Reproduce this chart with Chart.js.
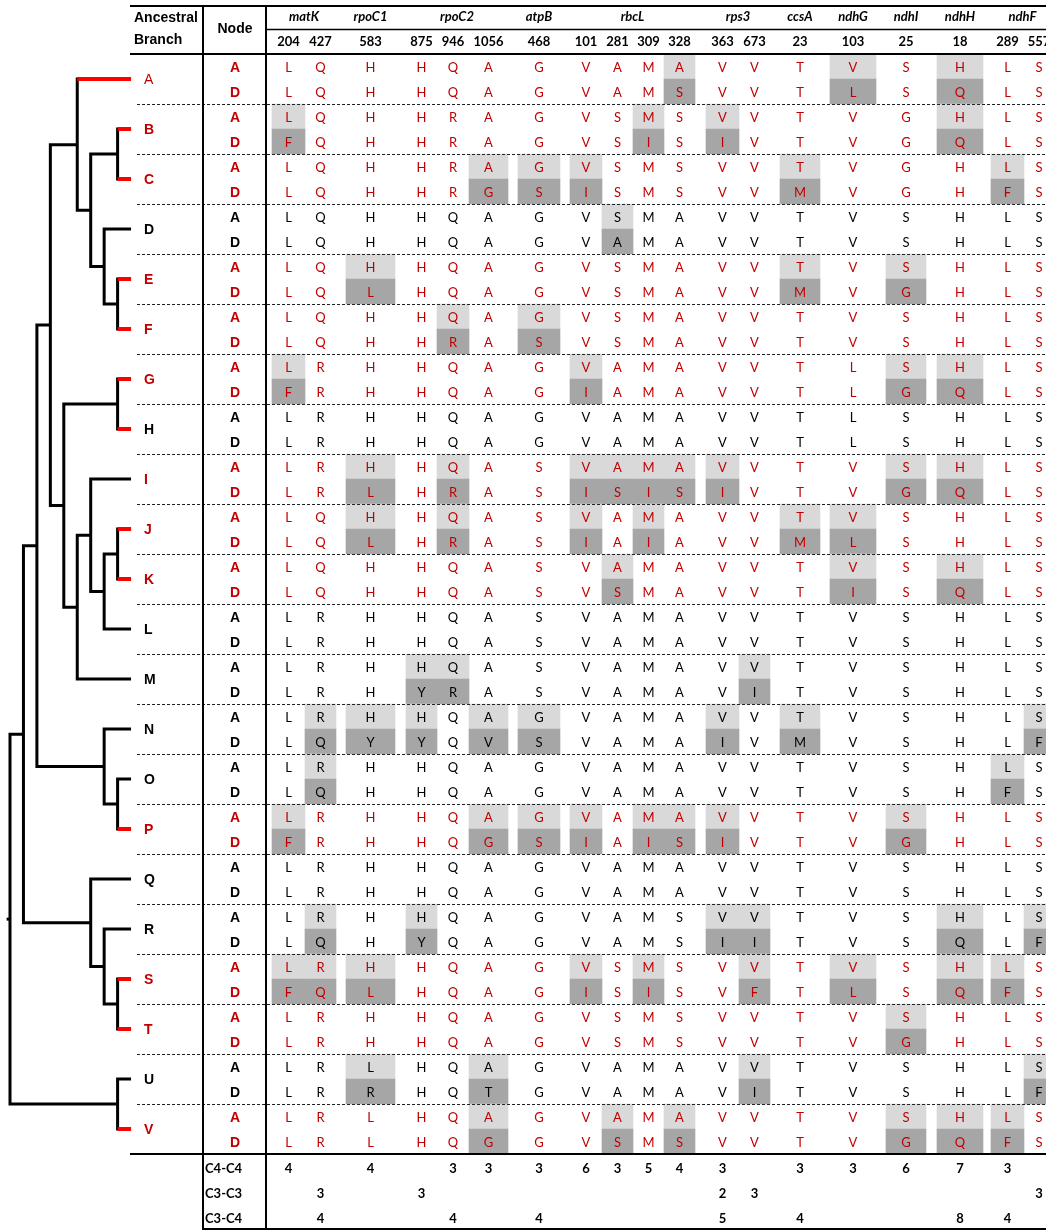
<!DOCTYPE html>
<html>
<head>
<meta charset="utf-8">
<script src="https://cdn.jsdelivr.net/npm/chart.js@4.4.1/dist/chart.umd.min.js"></script>
<style>
  html, body { margin: 0; padding: 0; background: #fff; }
  #wrap { width: 1046px; height: 1232px; }
</style>
</head>
<body>
<div id="wrap"><canvas id="siteChart" width="1046" height="1232"></canvas></div>
<script>
// genes and the sites (codon positions) shown for each
const genes = ["matK", "rpoC1", "rpoC2", "atpB", "rbcL", "rps3", "ccsA", "ndhG", "ndhI", "ndhH", "ndhF"];
const geneSiteCount = [2, 1, 3, 1, 4, 2, 1, 1, 1, 1, 2];
const sites = ["204", "427", "583", "875", "946", "1056", "468", "101", "281", "309", "328",
               "363", "673", "23", "103", "25", "18", "289", "557"];

// ancestral branches (nodes)
const nodes = ["A", "B", "C", "D", "E", "F", "G", "H", "I", "J", "K",
               "L", "M", "N", "O", "P", "Q", "R", "S", "T", "U", "V"];
const redLabels = ["A", "B", "C", "E", "F", "G", "I", "J", "K", "P", "S", "T", "V"];
const redBranches = ["A", "B", "C", "E", "F", "G", "H", "J", "K", "P", "S", "T", "V"];

// amino acid at each site: ancestral (A) and descendant (D) state per node
const ancestral = [
  "LQHHQAGVAMAVVTVSHLS", "LQHHRAGVSMSVVTVGHLS", "LQHHRAGVSMSVVTVGHLS", "LQHHQAGVSMAVVTVSHLS",
  "LQHHQAGVSMAVVTVSHLS", "LQHHQAGVSMAVVTVSHLS", "LRHHQAGVAMAVVTLSHLS", "LRHHQAGVAMAVVTLSHLS",
  "LRHHQASVAMAVVTVSHLS", "LQHHQASVAMAVVTVSHLS", "LQHHQASVAMAVVTVSHLS", "LRHHQASVAMAVVTVSHLS",
  "LRHHQASVAMAVVTVSHLS", "LRHHQAGVAMAVVTVSHLS", "LRHHQAGVAMAVVTVSHLS", "LRHHQAGVAMAVVTVSHLS",
  "LRHHQAGVAMAVVTVSHLS", "LRHHQAGVAMSVVTVSHLS", "LRHHQAGVSMSVVTVSHLS", "LRHHQAGVSMSVVTVSHLS",
  "LRLHQAGVAMAVVTVSHLS", "LRLHQAGVAMAVVTVSHLS"
];
const derived = [
  "LQHHQAGVAMSVVTLSQLS", "FQHHRAGVSISIVTVGQLS", "LQHHRGSISMSVVMVGHFS", "LQHHQAGVAMAVVTVSHLS",
  "LQLHQAGVSMAVVMVGHLS", "LQHHRASVSMAVVTVSHLS", "FRHHQAGIAMAVVTLGQLS", "LRHHQAGVAMAVVTLSHLS",
  "LRLHRASISISIVTVGQLS", "LQLHRASIAIAVVMLSHLS", "LQHHQASVSMAVVTISQLS", "LRHHQASVAMAVVTVSHLS",
  "LRHYRASVAMAVITVSHLS", "LQYYQVSVAMAIVMVSHLF", "LQHHQAGVAMAVVTVSHFS", "FRHHQGSIAISIVTVGHLS",
  "LRHHQAGVAMAVVTVSHLS", "LQHYQAGVAMSIITVSQLF", "FQLHQAGISISVFTLSQFS", "LRHHQAGVSMSVVTVGHLS",
  "LRRHQTGVAMAVITVSHLF", "LRLHQGGVSMSVVTVGQFS"
];

// number of substitutions per site by lineage type
const summaryLabels = ["C4-C4", "C3-C3", "C3-C4"];
const c4c4 = [4, null, 4, null, 3, 3, 3, 6, 3, 5, 4, 3, null, 3, 3, 6, 7, 3, null];
const c3c3 = [null, 3, null, 3, null, null, null, null, null, null, null, 2, 3, null, null, null, null, null, 3];
const c3c4 = [null, 4, null, null, 4, null, 4, null, null, null, null, 5, null, 4, null, null, 8, 4, null];

// tree: [depth level, children...], leaves are node names
const tree = [0,
  [1,
    [2,
      [3,
        [5, "A", [6, [8, "B", "C"], [7, "D", [8, "E", "F"]]]],
        [4, [8, "G", "H"], [5, [6, "I", [7, [8, "J", "K"], "L"]], "M"]]
      ],
      [7, "N", [8, "O", "P"]]
    ],
    [6, "Q", [7, "R", [8, "S", "T"]]]
  ],
  [8, "U", "V"]
];
const TIP_LEVEL = 9;

// ---- layout (pixel units on the x scale) ----
const TABLE_X0 = 272;
const colGap = [0, 0, 10, 11, 0, 0, 10, 10, 0, 0, 0, 11, 0, 10, 10, 10, 11, 8, 0];
const colWidth = [33, 31, 49, 31, 32, 39, 42, 32, 31, 31, 31, 33, 31, 40, 46, 40, 46, 33, 30];
const colL = [], colR = [];
let cursor = TABLE_X0;
colWidth.forEach((w, i) => { cursor += colGap[i]; colL.push(cursor); cursor += w; colR.push(cursor); });
const colMid = colL.map((l, i) => (l + colR[i]) / 2);
const TREE_X0 = 10, TREE_STEP = 13.45;
const treeX = lvl => TREE_X0 + lvl * TREE_STEP;

const RED = "#c00000";
const LIGHT = "#d9d9d9";
const DARK = "#a6a6a6";
const ROWS = nodes.length * 2 + summaryLabels.length;

// shaded cells = sites where ancestral and derived states differ
const barSets = sites.map((s, i) => {
  const data = [], colors = [];
  nodes.forEach((n, k) => {
    if (ancestral[k][i] !== derived[k][i]) {
      data.push({ x: [colL[i], colR[i]], y: 2 * k }); colors.push(LIGHT);
      data.push({ x: [colL[i], colR[i]], y: 2 * k + 1 }); colors.push(DARK);
    }
  });
  return {
    type: "bar", indexAxis: "y", data, backgroundColor: colors, borderWidth: 0,
    grouped: false, barPercentage: 1, categoryPercentage: 1, order: 5
  };
});

// tree branches as line datasets
const treeSets = [];
function lineSet(points, color, width, order) {
  return { type: "line", data: points, borderColor: color, borderWidth: width, pointRadius: 0,
           fill: false, tension: 0, clip: false, borderCapStyle: "butt", borderJoinStyle: "miter", order };
}
function layoutTree(node) {
  if (typeof node === "string") {
    return { lvl: TIP_LEVEL, y: 2 * nodes.indexOf(node) + 0.5, leaf: node };
  }
  const [lvl, ...kids] = node;
  const pts = kids.map(layoutTree);
  const a = pts[0], b = pts[pts.length - 1];
  treeSets.push(lineSet([
    { x: treeX(a.lvl), y: a.y }, { x: treeX(lvl), y: a.y },
    { x: treeX(lvl), y: b.y }, { x: treeX(b.lvl), y: b.y }
  ], "#000", 3, 2));
  pts.forEach(p => {
    if (p.leaf && redBranches.includes(p.leaf)) {
      treeSets.push(lineSet([{ x: treeX(lvl), y: p.y }, { x: treeX(TIP_LEVEL), y: p.y }], "#ff0000", 4, 1));
    }
  });
  return { lvl, y: (a.y + b.y) / 2 };
}
const root = layoutTree(tree);
treeSets.push(lineSet([{ x: treeX(-0.25), y: root.y }, { x: treeX(0), y: root.y }], "#000", 3, 2));

const tablePlugin = {
  id: "siteTable",
  afterDatasetsDraw(chart) {
    const { ctx, scales: { x, y } } = chart;
    const px = v => x.getPixelForValue(v);
    const rowY = r => y.getPixelForValue(r);
    const nodeColX = px(235);
    ctx.save();
    ctx.textBaseline = "middle";

    // header
    ctx.fillStyle = "#000";
    ctx.font = "bold 14px 'Liberation Sans', Arial";
    ctx.textAlign = "left";
    ctx.fillText("Ancestral", px(134), 18);
    ctx.fillText("Branch", px(134), 40);
    ctx.textAlign = "center";
    ctx.fillText("Node", nodeColX, 29);
    let start = 0;
    ctx.font = "italic bold 13px Lato";
    genes.forEach((g, gi) => {
      const end = start + geneSiteCount[gi] - 1;
      ctx.fillText(g, px((colL[start] + colR[end]) / 2), 17);
      start = end + 1;
    });
    ctx.font = "bold 13px Lato";
    sites.forEach((s, i) => ctx.fillText(s, px(colMid[i]), 42));

    // dashed separators between nodes
    ctx.setLineDash([3, 2]);
    ctx.lineWidth = 1;
    ctx.strokeStyle = "#222";
    for (let k = 1; k < nodes.length; k++) {
      const py = Math.round(rowY(2 * k - 0.5)) + 0.5;
      ctx.beginPath(); ctx.moveTo(px(137), py); ctx.lineTo(x.right, py); ctx.stroke();
    }
    ctx.setLineDash([]);

    // frame lines
    ctx.strokeStyle = "#000";
    const hline = (y0, x0, x1, w) => { ctx.lineWidth = w; ctx.beginPath(); ctx.moveTo(px(x0), y0); ctx.lineTo(px(x1), y0); ctx.stroke(); };
    const bodyBottom = rowY(nodes.length * 2 - 0.5);
    const tableBottom = rowY(ROWS - 0.5);
    hline(6, 130, 1046, 2);
    hline(29.5, 267, 1046, 1.5);
    hline(chart.chartArea.top, 130, 1046, 2);
    hline(bodyBottom, 130, 1046, 2);
    hline(tableBottom, 203, 1046, 2);
    ctx.lineWidth = 2;
    [203, 266].forEach(v => { ctx.beginPath(); ctx.moveTo(px(v), 5); ctx.lineTo(px(v), tableBottom + 1); ctx.stroke(); });

    // node rows
    nodes.forEach((n, k) => {
      const color = redLabels.includes(n) ? RED : "#000";
      ctx.fillStyle = color;
      ctx.textAlign = "left";
      ctx.font = (n === "A" ? "" : "bold ") + "14px 'Liberation Sans', Arial";
      ctx.fillText(n, px(144), rowY(2 * k + 0.5) + 1);
      [ancestral[k], derived[k]].forEach((seq, j) => {
        const py = rowY(2 * k + j) + 1.5;
        ctx.textAlign = "center";
        ctx.font = "bold 14px 'Liberation Sans', Arial";
        ctx.fillText(j === 0 ? "A" : "D", nodeColX, py);
        ctx.font = "13px Lato";
        for (let i = 0; i < sites.length; i++) ctx.fillText(seq[i], px(colMid[i]), py);
      });
    });

    // substitution counts
    ctx.fillStyle = "#000";
    ctx.font = "bold 13px Lato";
    [c4c4, c3c3, c3c4].forEach((vals, j) => {
      const py = rowY(nodes.length * 2 + j) + 2.5;
      ctx.textAlign = "left";
      ctx.fillText(summaryLabels[j], px(205), py);
      ctx.textAlign = "center";
      vals.forEach((v, i) => { if (v !== null) ctx.fillText(String(v), px(colMid[i]), py); });
    });
    ctx.restore();
  }
};

new Chart(document.getElementById("siteChart"), {
  type: "bar",
  data: { datasets: [...treeSets, ...barSets] },
  options: {
    responsive: false,
    animation: false,
    devicePixelRatio: 1,
    events: [],
    layout: { padding: { top: 54, bottom: 3, left: 0, right: 0 }, autoPadding: false },
    scales: {
      x: { type: "linear", min: 0, max: 1046, offset: false, display: false },
      y: { type: "linear", min: -0.5, max: ROWS - 0.5, reverse: true, offset: false, display: false }
    },
    plugins: { legend: { display: false }, tooltip: { enabled: false } }
  },
  plugins: [tablePlugin]
});
</script>
</body>
</html>
